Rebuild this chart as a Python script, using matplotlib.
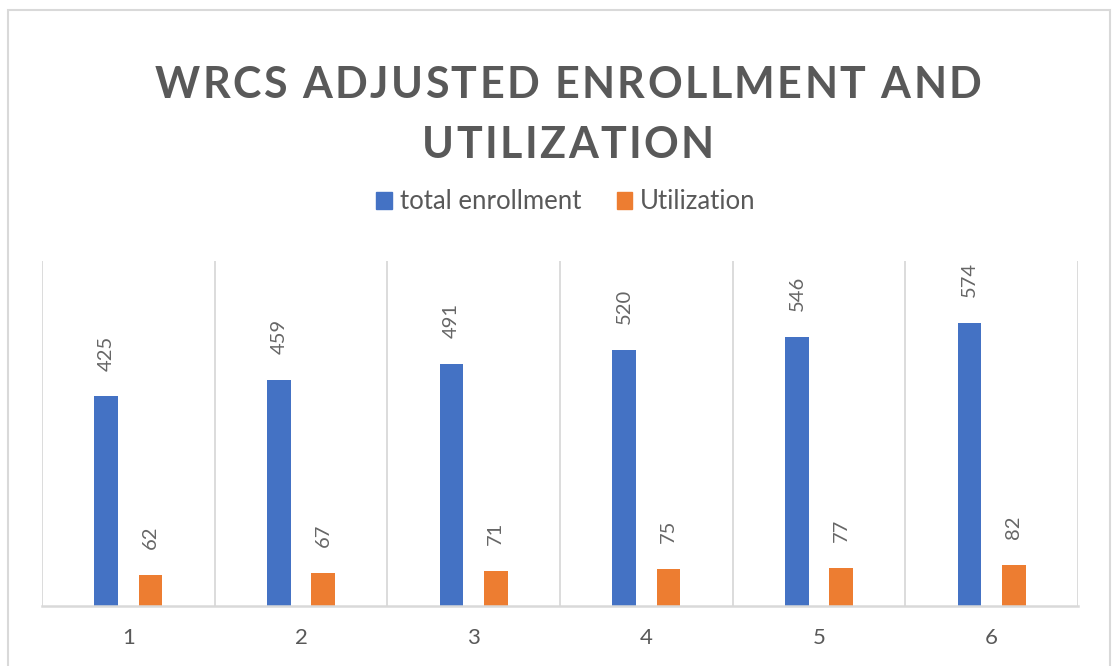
import matplotlib
matplotlib.use("Agg")
import matplotlib.pyplot as plt
import numpy as np
from matplotlib.patches import Patch, Rectangle
from matplotlib.textpath import TextToPath
from matplotlib.font_manager import FontProperties

categories = ["1", "2", "3", "4", "5", "6"]
total_enrollment = [425, 459, 491, 520, 546, 574]
utilization = [62, 67, 71, 75, 77, 82]
title_lines = ["WRCS ADJUSTED ENROLLMENT AND", "UTILIZATION"]
series_names = ["total enrollment", "Utilization"]

BLUE = "#4472C4"
ORANGE = "#ED7D31"
TEXT = "#595959"
GRID = "#D9D9D9"
FONT = "Lato"

W, H, DPI = 1112, 666, 100
plt.rcParams["font.family"] = [FONT, "DejaVu Sans"]

fig = plt.figure(figsize=(W / DPI, H / DPI), dpi=DPI)

# chart border
fig.patches.append(Rectangle((8 / W, -0.1), (1110 - 8) / W, 1.1 - 10 / H,
                             transform=fig.transFigure, fill=False,
                             edgecolor=GRID, lw=1.5))

# plot area
left, right, top, bottom = 42, 1078, 261, 605.5
ax = fig.add_axes([left / W, 1 - bottom / H, (right - left) / W, (bottom - top) / H])

x = np.arange(1, len(categories) + 1)
bw = 0.137
off = 0.128
b1 = ax.bar(x - off, total_enrollment, bw, color=BLUE, label=series_names[0])
b2 = ax.bar(x + off, utilization, bw, color=ORANGE, label=series_names[1])

for bars in (b1, b2):
    ax.bar_label(bars, padding=18.5, rotation=90, color="#666666", fontsize=14.5)

ax.set_xlim(0.5, len(categories) + 0.5)
ax.set_ylim(0, 700)
ax.set_yticks([])
ax.set_xticks(x)
ax.set_xticklabels(categories, fontsize=16, color=TEXT)
ax.tick_params(axis="x", length=0, pad=16)
for xb in np.arange(0.5, len(categories) + 1, 1.0):
    ax.axvline(xb, color=GRID, lw=1.3, zorder=0)
for s in ("top", "left", "right"):
    ax.spines[s].set_visible(False)
ax.spines["bottom"].set_color(GRID)
ax.spines["bottom"].set_linewidth(1.8)

# title with letter spacing, drawn char by char
t2p = TextToPath()
prop = FontProperties(family=FONT, weight="bold", size=31)
spacing = 2.4  # px between letters


def char_w(ch):
    w, _, _ = t2p.get_text_width_height_descent(ch, prop, ismath=False)
    return w * DPI / 72.0


def spaced_text(s, xc, y_base):
    widths = [char_w(c) for c in s]
    total = sum(widths) + spacing * (len(s) - 1)
    xp = xc - total / 2
    for c, w in zip(s, widths):
        fig.text(xp / W, 1 - y_base / H, c, fontproperties=prop, color=TEXT,
                 ha="left", va="baseline")
        xp += w + spacing


spaced_text(title_lines[0], 568, 98)
spaced_text(title_lines[1], 568, 158)

handles = [Patch(color=BLUE), Patch(color=ORANGE)]
fig.legend(handles, series_names, loc="center", bbox_to_anchor=(566 / W, 1 - 202 / H),
           ncol=2, frameon=False, fontsize=18.5, labelcolor=TEXT,
           handlelength=0.6, handleheight=0.6, handletextpad=0.3,
           columnspacing=1.4)

fig.savefig("out.png", dpi=DPI)
